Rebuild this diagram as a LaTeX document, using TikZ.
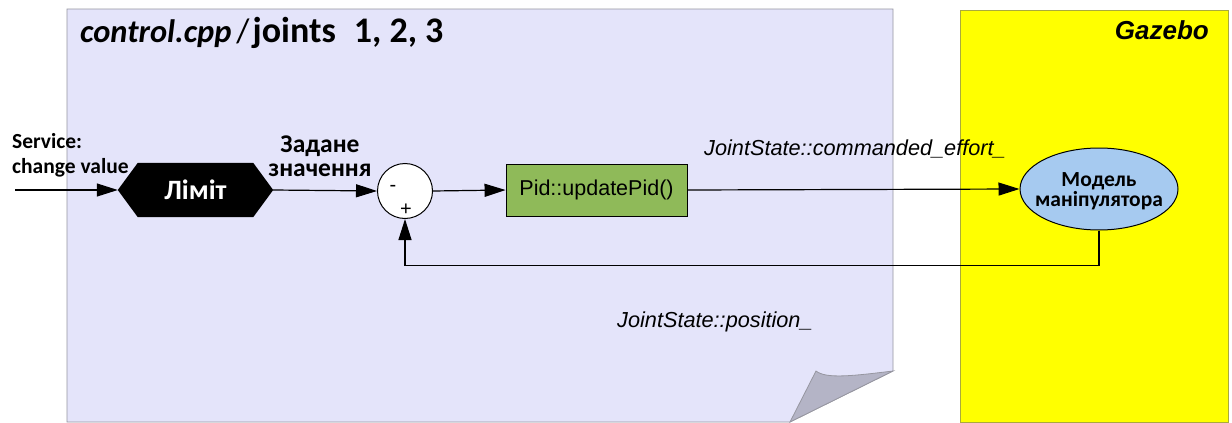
\documentclass[tikz,border=0pt]{standalone}
\usepackage{fontspec}
\setmainfont{Carlito}
\newfontfamily\arialf{Liberation Sans}
\usetikzlibrary{arrows.meta,shapes.geometric}
\definecolor{pagefill}{RGB}{228,228,250}
\definecolor{pageedge}{RGB}{150,150,160}
\definecolor{flapfill}{RGB}{180,180,198}
\definecolor{pidgreen}{RGB}{143,186,89}
\definecolor{modelblue}{RGB}{166,202,240}
\definecolor{gzyellow}{RGB}{255,255,0}
\definecolor{gzedge}{RGB}{170,170,60}
\tikzset{
  arr/.style={draw=black, line width=1.2pt, -{Triangle[length=21pt,width=13pt]}},
  lbl/.style={inner sep=0pt, anchor=base west},
}
\begin{document}
\begin{tikzpicture}[x=1pt,y=-1pt]
  \useasboundingbox (0,0) rectangle (1232,423);
  \fill[white] (0,0) rectangle (1232,423);

  % sheet with folded corner
  \path[fill=pagefill, draw=pageedge, line width=0.8pt]
    (67,9) -- (893,9) -- (893,371) -- (790,422) -- (67,422) -- cycle;
  \path[fill=flapfill, draw=pageedge, line width=0.8pt]
    (816,371) .. controls (826,379) and (852,376) .. (893,371) -- (790,422) -- cycle;

  % simulator area
  \path[fill=gzyellow, draw=gzedge, line width=0.8pt] (960,10) rectangle (1228,422);

  % titles
  \node[lbl] (title) at (80,42) {\fontsize{32.5}{36}\selectfont\bfseries\itshape control.cpp\hspace{5pt}\mdseries\upshape\fontsize{34}{40}\selectfont/\hspace{3pt}\bfseries\fontsize{36}{40}\selectfont joints\hspace{18pt}1, 2, 3};
  \node[inner sep=0pt, anchor=base east] (gazebo) at (1209,39) {\arialf\fontsize{26}{30}\selectfont\bfseries\itshape Gazebo};

  % blocks
  \node[minimum width=155pt, minimum height=54pt, inner sep=0pt] (limit) at (195.5,190) {};
  \path[fill=black] (limit.west) -- ([xshift=20pt]limit.north west) -- ([xshift=-20pt]limit.north east)
    -- (limit.east) -- ([xshift=-20pt]limit.south east) -- ([xshift=20pt]limit.south west) -- cycle;
  \node[text=white, inner sep=0pt] (limittext) at (limit.center) {\fontsize{28}{30}\selectfont\bfseries Ліміт};

  \node[circle, draw=black, fill=white, line width=1pt, minimum size=55pt, inner sep=0pt] (sum) at (405,191) {};
  \node[inner sep=0pt] (minus) at (393,188) {\arialf\fontsize{20}{20}\selectfont -};
  \node[inner sep=0pt] (plus) at (406,210) {\arialf\fontsize{20}{20}\selectfont +};

  \node[rectangle, draw=black, fill=pidgreen, line width=0.9pt, minimum width=181pt, minimum height=52pt, inner sep=0pt] (pid) at (596.5,190)
    {\arialf\fontsize{21.5}{24}\selectfont Pid::updatePid()};

  \node[ellipse, draw=black, fill=modelblue, line width=1pt, minimum width=158pt, minimum height=82pt, inner sep=0pt] (model) at (1099,189) {};
  \node[inner sep=0pt, anchor=base] (model1) at (1099,186) {\fontsize{21.5}{24}\selectfont\bfseries Модель};
  \node[inner sep=0pt, anchor=base] (model2) at (1099,206) {\fontsize{21.5}{24}\selectfont\bfseries маніпулятора};

  % labels
  \node[lbl] (svc1) at (12,148) {\fontsize{21.5}{24}\selectfont\bfseries Service:};
  \node[lbl] (svc2) at (12,173) {\fontsize{21.5}{24}\selectfont\bfseries change value};
  \node[inner sep=0pt, anchor=base] (set1) at (320,152) {\fontsize{25.5}{28}\selectfont\bfseries Задане};
  \node[inner sep=0pt, anchor=base] (set2) at (320,176) {\fontsize{25.5}{28}\selectfont\bfseries значення};
  \node[lbl] (effort) at (704,155) {\arialf\fontsize{21.7}{24}\selectfont\itshape JointState::commanded\_effort\_};
  \node[lbl] (pos) at (617,327) {\arialf\fontsize{21.7}{24}\selectfont\itshape JointState::position\_};

  % signal flow
  \coordinate (in) at (15,190);
  \draw[arr] (in) -- (limit.west);
  \draw[arr] (limit.east) -- (sum.west);
  \draw[arr] (sum.east) -- (pid.west);
  \draw[arr] (pid.east) -- (model.west);
  \draw[arr] (model.south) -- ++(0,35) -| (sum.south);
\end{tikzpicture}
\end{document}
